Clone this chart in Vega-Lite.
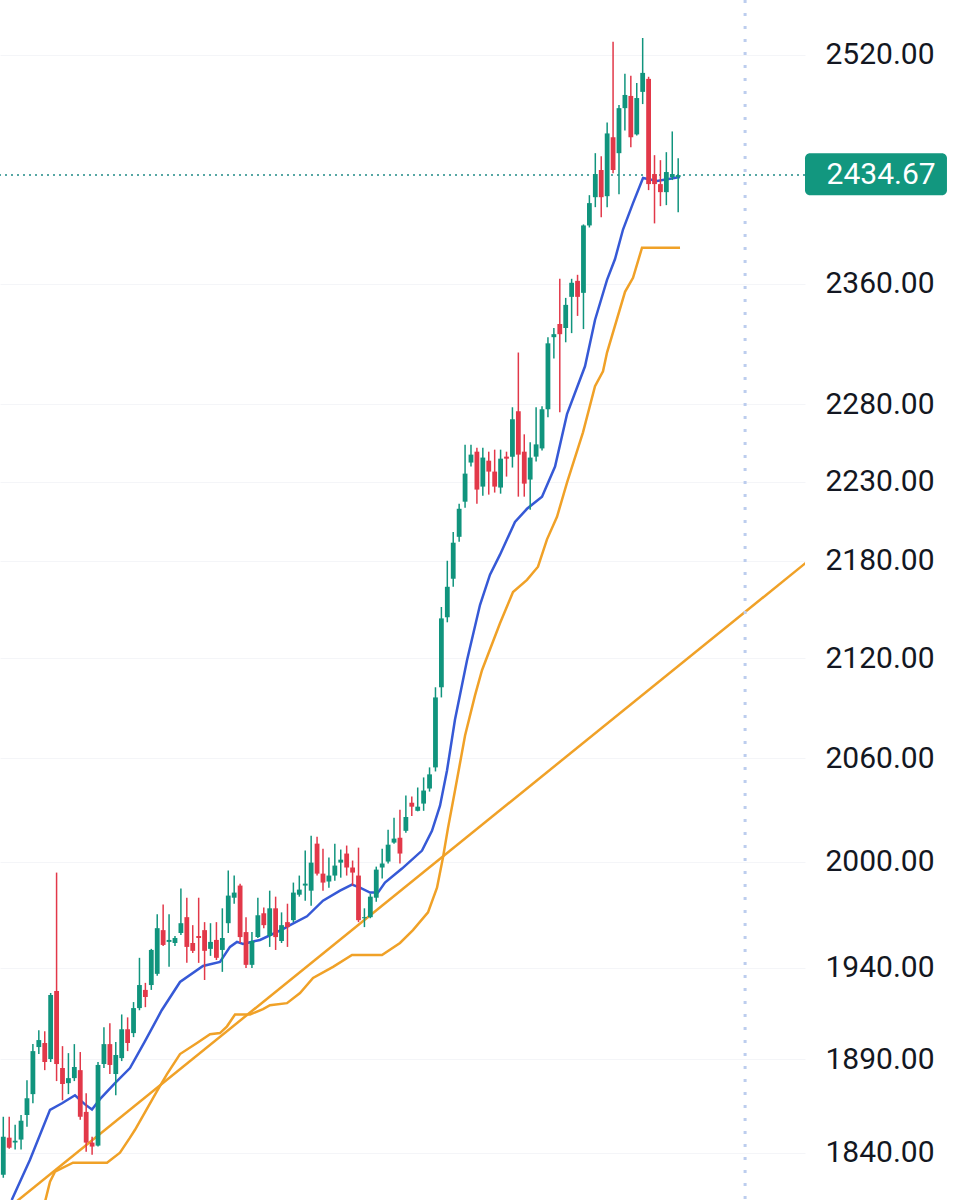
{
 "$schema": "https://vega.github.io/schema/vega-lite/v6.json",
 "width": 805,
 "height": 1200,
 "autosize": {"type": "none"},
 "padding": {"left": 0, "top": 0, "right": 154, "bottom": 0},
 "background": "#ffffff",
 "config": {"view": {"stroke": null}, "font": "Roboto",
  "axisY": {"domain": false, "ticks": false, "labelPadding": 20, "labelFontSize": 30, "labelFont": "Roboto", "labelColor": "#131722", "labelAlign": "left", "labelBaseline": "middle", "grid": true, "gridColor": "#f4f5f8", "gridWidth": 1, "labelOverlap": false, "labelBound": false, "labelFlush": false, "title": null}
 },
 "datasets": {
  "candles": [
   {"i":0,"o":1828.4,"h":1859.0,"l":1826.8,"c":1848.4},
   {"i":1,"o":1847.9,"h":1859.0,"l":1842.0,"c":1842.6},
   {"i":2,"o":1845.3,"h":1854.8,"l":1841.6,"c":1846.3},
   {"i":3,"o":1846.9,"h":1860.0,"l":1841.6,"c":1856.9},
   {"i":4,"o":1860.0,"h":1878.6,"l":1853.7,"c":1868.9},
   {"i":5,"o":1871.1,"h":1898.1,"l":1866.2,"c":1894.3},
   {"i":6,"o":1896.5,"h":1905.7,"l":1892.7,"c":1900.3},
   {"i":7,"o":1898.7,"h":1905.1,"l":1884.0,"c":1888.4},
   {"i":8,"o":1890.0,"h":1926.1,"l":1888.4,"c":1925.0},
   {"i":9,"o":1927.2,"h":1993.7,"l":1878.1,"c":1887.3},
   {"i":10,"o":1885.1,"h":1897.0,"l":1867.8,"c":1876.5},
   {"i":11,"o":1877.0,"h":1893.2,"l":1871.1,"c":1879.7},
   {"i":12,"o":1879.7,"h":1898.1,"l":1878.1,"c":1885.7},
   {"i":13,"o":1884.0,"h":1893.8,"l":1857.4,"c":1859.0},
   {"i":14,"o":1861.6,"h":1871.6,"l":1840.5,"c":1845.3},
   {"i":15,"o":1845.3,"h":1848.4,"l":1838.9,"c":1843.2},
   {"i":16,"o":1843.7,"h":1888.4,"l":1843.2,"c":1886.8},
   {"i":17,"o":1887.3,"h":1907.3,"l":1885.1,"c":1898.1},
   {"i":18,"o":1898.1,"h":1909.5,"l":1881.9,"c":1886.8},
   {"i":19,"o":1881.9,"h":1899.2,"l":1870.5,"c":1892.2},
   {"i":20,"o":1890.5,"h":1914.3,"l":1888.9,"c":1906.2},
   {"i":21,"o":1906.2,"h":1912.7,"l":1894.3,"c":1898.7},
   {"i":22,"o":1904.1,"h":1921.1,"l":1901.9,"c":1917.8},
   {"i":23,"o":1917.8,"h":1945.6,"l":1916.6,"c":1930.5},
   {"i":24,"o":1927.8,"h":1931.7,"l":1918.3,"c":1923.9},
   {"i":25,"o":1930.5,"h":1950.6,"l":1927.8,"c":1950.0},
   {"i":26,"o":1936.7,"h":1970.0,"l":1935.6,"c":1962.2},
   {"i":27,"o":1961.1,"h":1975.6,"l":1952.2,"c":1952.8},
   {"i":28,"o":1954.5,"h":1970.0,"l":1940.6,"c":1955.6},
   {"i":29,"o":1953.9,"h":1957.8,"l":1952.2,"c":1956.7},
   {"i":30,"o":1959.5,"h":1984.6,"l":1958.4,"c":1965.0},
   {"i":31,"o":1968.4,"h":1979.4,"l":1942.8,"c":1951.7},
   {"i":32,"o":1953.9,"h":1963.9,"l":1948.3,"c":1949.5},
   {"i":33,"o":1957.8,"h":1979.4,"l":1942.8,"c":1956.7},
   {"i":34,"o":1961.1,"h":1965.6,"l":1933.3,"c":1949.5},
   {"i":35,"o":1950.6,"h":1965.0,"l":1946.7,"c":1954.5},
   {"i":36,"o":1955.6,"h":1965.6,"l":1944.4,"c":1945.6},
   {"i":37,"o":1950.0,"h":1973.4,"l":1937.8,"c":1956.7},
   {"i":38,"o":1965.0,"h":1994.9,"l":1959.5,"c":1980.6},
   {"i":39,"o":1979.4,"h":1992.0,"l":1976.0,"c":1982.3},
   {"i":40,"o":1986.3,"h":1987.4,"l":1953.9,"c":1957.2},
   {"i":41,"o":1960.0,"h":1968.4,"l":1940.0,"c":1941.7},
   {"i":42,"o":1941.7,"h":1960.0,"l":1940.0,"c":1955.0},
   {"i":43,"o":1957.2,"h":1979.4,"l":1956.7,"c":1969.5},
   {"i":44,"o":1970.6,"h":1973.9,"l":1962.2,"c":1963.9},
   {"i":45,"o":1957.8,"h":1983.4,"l":1951.7,"c":1973.4},
   {"i":46,"o":1973.4,"h":1980.0,"l":1950.0,"c":1957.2},
   {"i":47,"o":1955.0,"h":1971.1,"l":1953.9,"c":1963.9},
   {"i":48,"o":1965.6,"h":1976.0,"l":1951.7,"c":1962.8},
   {"i":49,"o":1966.7,"h":1988.0,"l":1965.6,"c":1982.3},
   {"i":50,"o":1981.1,"h":1992.0,"l":1980.0,"c":1984.0},
   {"i":51,"o":1986.3,"h":2006.3,"l":1977.7,"c":1987.4},
   {"i":52,"o":1983.4,"h":2014.9,"l":1974.8,"c":1999.4},
   {"i":53,"o":2010.3,"h":2014.3,"l":1992.0,"c":1993.1},
   {"i":54,"o":1993.1,"h":2007.4,"l":1983.4,"c":1988.0},
   {"i":55,"o":1988.6,"h":2002.3,"l":1985.1,"c":1992.0},
   {"i":56,"o":1992.0,"h":2010.3,"l":1989.1,"c":1997.7},
   {"i":57,"o":1999.4,"h":2006.9,"l":1990.8,"c":2001.1},
   {"i":58,"o":2004.6,"h":2009.2,"l":1992.0,"c":1996.6},
   {"i":59,"o":1996.6,"h":2000.6,"l":1986.3,"c":1993.7},
   {"i":60,"o":1992.0,"h":2008.0,"l":1965.6,"c":1966.7},
   {"i":61,"o":1967.8,"h":1973.4,"l":1962.8,"c":1968.4},
   {"i":62,"o":1968.4,"h":1981.7,"l":1967.8,"c":1980.0},
   {"i":63,"o":1979.4,"h":1997.1,"l":1977.1,"c":1995.4},
   {"i":64,"o":1996.6,"h":2007.4,"l":1990.3,"c":1998.9},
   {"i":65,"o":2000.0,"h":2018.3,"l":1998.9,"c":2009.7},
   {"i":66,"o":2010.9,"h":2025.2,"l":2010.3,"c":2013.2},
   {"i":67,"o":2013.7,"h":2029.9,"l":1998.9,"c":2004.6},
   {"i":68,"o":2017.7,"h":2038.2,"l":2016.6,"c":2025.7},
   {"i":69,"o":2034.0,"h":2037.6,"l":2026.3,"c":2031.7},
   {"i":70,"o":2029.3,"h":2042.9,"l":2029.0,"c":2031.7},
   {"i":71,"o":2033.5,"h":2048.8,"l":2029.3,"c":2041.1},
   {"i":72,"o":2042.3,"h":2054.7,"l":2040.5,"c":2050.6},
   {"i":73,"o":2054.7,"h":2102.4,"l":2052.3,"c":2096.3},
   {"i":74,"o":2102.4,"h":2151.3,"l":2096.3,"c":2144.3},
   {"i":75,"o":2145.0,"h":2180.0,"l":2141.9,"c":2163.8},
   {"i":76,"o":2168.8,"h":2198.1,"l":2163.8,"c":2191.3},
   {"i":77,"o":2195.0,"h":2215.9,"l":2191.9,"c":2212.7},
   {"i":78,"o":2217.2,"h":2253.7,"l":2213.4,"c":2235.1},
   {"i":79,"o":2242.2,"h":2253.7,"l":2239.6,"c":2247.3},
   {"i":80,"o":2249.2,"h":2251.8,"l":2215.9,"c":2224.9},
   {"i":81,"o":2226.8,"h":2251.8,"l":2221.0,"c":2245.4},
   {"i":82,"o":2243.4,"h":2249.2,"l":2221.7,"c":2236.4},
   {"i":83,"o":2236.4,"h":2250.5,"l":2223.0,"c":2226.8},
   {"i":84,"o":2226.2,"h":2250.5,"l":2222.3,"c":2244.7},
   {"i":85,"o":2246.0,"h":2249.2,"l":2233.2,"c":2244.7},
   {"i":86,"o":2246.0,"h":2278.0,"l":2239.0,"c":2270.2},
   {"i":87,"o":2275.4,"h":2314.0,"l":2220.4,"c":2247.3},
   {"i":88,"o":2249.2,"h":2260.4,"l":2220.4,"c":2228.7},
   {"i":89,"o":2231.3,"h":2255.2,"l":2212.1,"c":2245.4},
   {"i":90,"o":2246.0,"h":2278.0,"l":2242.8,"c":2253.9},
   {"i":91,"o":2251.3,"h":2278.7,"l":2250.0,"c":2276.7},
   {"i":92,"o":2276.7,"h":2324.2,"l":2271.5,"c":2320.1},
   {"i":93,"o":2324.2,"h":2330.3,"l":2310.0,"c":2326.2},
   {"i":94,"o":2333.0,"h":2363.4,"l":2274.8,"c":2326.2},
   {"i":95,"o":2330.3,"h":2350.5,"l":2320.8,"c":2345.8},
   {"i":96,"o":2351.2,"h":2363.4,"l":2326.9,"c":2360.7},
   {"i":97,"o":2362.0,"h":2366.1,"l":2338.4,"c":2351.2},
   {"i":98,"o":2353.9,"h":2400.5,"l":2329.6,"c":2399.8},
   {"i":99,"o":2399.8,"h":2420.7,"l":2398.4,"c":2415.2},
   {"i":100,"o":2419.3,"h":2450.0,"l":2412.4,"c":2435.4},
   {"i":101,"o":2438.2,"h":2447.9,"l":2405.4,"c":2419.3},
   {"i":102,"o":2420.0,"h":2471.6,"l":2412.4,"c":2463.9},
   {"i":103,"o":2461.2,"h":2529.4,"l":2436.0,"c":2438.2},
   {"i":104,"o":2450.0,"h":2484.0,"l":2421.4,"c":2481.8},
   {"i":105,"o":2481.8,"h":2506.3,"l":2466.0,"c":2491.2},
   {"i":106,"o":2490.5,"h":2504.9,"l":2454.2,"c":2461.2},
   {"i":107,"o":2463.2,"h":2499.8,"l":2462.5,"c":2489.0},
   {"i":108,"o":2493.4,"h":2532.2,"l":2484.7,"c":2507.0},
   {"i":109,"o":2502.7,"h":2504.2,"l":2424.2,"c":2428.4},
   {"i":110,"o":2435.4,"h":2448.6,"l":2401.2,"c":2428.4},
   {"i":111,"o":2428.4,"h":2445.1,"l":2413.1,"c":2422.8},
   {"i":112,"o":2422.8,"h":2450.7,"l":2413.8,"c":2436.8},
   {"i":113,"o":2433.3,"h":2465.3,"l":2431.2,"c":2435.4},
   {"i":114,"o":2433.3,"h":2446.5,"l":2408.9,"c":2434.67}
  ],
  "fast": [
   {"i":1.42,"v":1815.2},{"i":4.51,"v":1836.3},{"i":7.89,"v":1862.7},{"i":9.92,"v":1866.2},
   {"i":12.11,"v":1870.5},{"i":13.8,"v":1865.6},{"i":14.98,"v":1862.9},{"i":16.33,"v":1868.4},
   {"i":18.87,"v":1877.0},{"i":21.4,"v":1885.1},{"i":23.94,"v":1899.7},{"i":26.76,"v":1916.6},
   {"i":29.85,"v":1932.2},{"i":33.73,"v":1941.1},{"i":36.6,"v":1943.3},{"i":38.29,"v":1951.7},
   {"i":39.47,"v":1954.5},{"i":40.49,"v":1953.4},{"i":43.36,"v":1955.6},{"i":47.25,"v":1961.7},
   {"i":48.43,"v":1963.9},{"i":51.3,"v":1968.9},{"i":54.0,"v":1977.7},{"i":56.88,"v":1983.4},
   {"i":58.9,"v":1986.8},{"i":60.25,"v":1985.1},{"i":61.94,"v":1982.3},{"i":63.29,"v":1982.3},
   {"i":64.47,"v":1988.0},{"i":67.35,"v":1996.0},{"i":70.73,"v":2006.3},{"i":72.41,"v":2017.7},
   {"i":73.77,"v":2032.3},{"i":74.95,"v":2052.9},{"i":76.3,"v":2083.1},{"i":78.33,"v":2118.8},
   {"i":80.52,"v":2152.5},{"i":82.21,"v":2171.3},{"i":83.9,"v":2183.8},{"i":86.43,"v":2204.4},
   {"i":88.46,"v":2212.7},{"i":91.0,"v":2220.4},{"i":93.2,"v":2239.6},{"i":95.22,"v":2273.5},
   {"i":98.26,"v":2304.9},{"i":99.95,"v":2335.7},{"i":101.98,"v":2362.7},{"i":103.33,"v":2376.8},
   {"i":104.68,"v":2397.0},{"i":106.37,"v":2415.2},{"i":108.06,"v":2432.6},{"i":110.44,"v":2430.5},
   {"i":114.31,"v":2433.3}
  ],
  "slow": [
   {"i":6.71,"v":1810.1},{"i":7.89,"v":1824.7},{"i":8.73,"v":1830.0},{"i":11.77,"v":1834.7},
   {"i":17.52,"v":1834.7},{"i":19.71,"v":1840.0},{"i":21.4,"v":1847.9},{"i":22.25,"v":1852.1},
   {"i":25.96,"v":1872.7},{"i":27.65,"v":1881.9},{"i":29.85,"v":1892.7},{"i":32.72,"v":1898.7},
   {"i":34.92,"v":1903.5},{"i":36.6,"v":1904.1},{"i":37.79,"v":1907.8},{"i":39.14,"v":1914.3},
   {"i":41.67,"v":1914.3},{"i":43.87,"v":1917.2},{"i":45.05,"v":1919.4},{"i":47.92,"v":1920.5},
   {"i":50.12,"v":1926.1},{"i":52.32,"v":1934.4},{"i":55.7,"v":1940.6},{"i":58.9,"v":1947.2},
   {"i":63.97,"v":1947.2},{"i":67.01,"v":1953.9},{"i":69.2,"v":1961.1},{"i":71.74,"v":1971.1},
   {"i":73.26,"v":1985.1},{"i":74.27,"v":2002.3},{"i":75.12,"v":2019.4},{"i":76.3,"v":2041.1},
   {"i":78.0,"v":2073.6},{"i":79.68,"v":2097.5},{"i":80.86,"v":2112.7},{"i":83.9,"v":2141.3},
   {"i":86.1,"v":2160.6},{"i":88.46,"v":2168.1},{"i":90.32,"v":2176.3},{"i":91.84,"v":2193.4},
   {"i":93.53,"v":2207.6},{"i":95.22,"v":2229.4},{"i":97.92,"v":2261.7},{"i":99.95,"v":2291.8},
   {"i":101.3,"v":2301.6},{"i":101.98,"v":2314.0},{"i":105.02,"v":2354.6},{"i":106.37,"v":2364.1},
   {"i":107.89,"v":2384.5},{"i":114.31,"v":2384.5}
  ],
  "trend": [
   {"i":-2.25,"v":1803.3},{"i":137.96,"v":2185.9}
  ],
  "last": [
   {"i":114,"v":2434.67,"label":"2434.67"}
  ]
 },
 "layer": [
  {
   "data": {"name": "trend"},
   "mark": {"type": "line", "color": "#f0a127", "strokeWidth": 2.5, "clip": true},
   "encoding": {
    "x": {"field": "i", "type": "quantitative", "scale": {"domain": [-0.557, 135.42], "nice": false, "zero": false, "padding": 0}, "axis": null},
    "y": {"field": "v", "type": "quantitative", "title": null,
          "scale": {"type": "log", "domain": [1815.2, 2559.9], "nice": false, "zero": false},
          "axis": {"orient": "right", "values": [1840, 1890, 1940, 2000, 2060, 2120, 2180, 2230, 2280, 2360, 2520], "format": ".2f"}}
   }
  },
  {
   "data": {"values": [{"v": 0}]},
   "mark": {"type": "rule", "color": "#bccdee", "strokeWidth": 3, "strokeDash": [3, 10]},
   "encoding": {"x": {"datum": 125.3, "type": "quantitative", "axis": null}}
  },
  {
   "data": {"name": "last"},
   "mark": {"type": "rule", "color": "#1f8a86", "strokeWidth": 1.5, "strokeDash": [2, 4]},
   "encoding": {"y": {"field": "v", "type": "quantitative", "title": null,
          "axis": {"orient": "right", "values": [1840, 1890, 1940, 2000, 2060, 2120, 2180, 2230, 2280, 2360, 2520], "format": ".2f"}}}
  },
  {
   "data": {"name": "slow"},
   "mark": {"type": "line", "color": "#f0a127", "strokeWidth": 2.5, "clip": true},
   "encoding": {
    "x": {"field": "i", "type": "quantitative", "axis": null},
    "y": {"field": "v", "type": "quantitative", "title": null,
          "axis": {"orient": "right", "values": [1840, 1890, 1940, 2000, 2060, 2120, 2180, 2230, 2280, 2360, 2520], "format": ".2f"}}
   }
  },
  {
   "data": {"name": "fast"},
   "mark": {"type": "line", "color": "#3659d6", "strokeWidth": 2.5, "clip": true},
   "encoding": {
    "x": {"field": "i", "type": "quantitative", "axis": null},
    "y": {"field": "v", "type": "quantitative", "title": null,
          "axis": {"orient": "right", "values": [1840, 1890, 1940, 2000, 2060, 2120, 2180, 2230, 2280, 2360, 2520], "format": ".2f"}}
   }
  },
  {
   "data": {"name": "candles"},
   "mark": {"type": "rule", "strokeWidth": 1.5},
   "encoding": {
    "x": {"field": "i", "type": "quantitative", "axis": null},
    "y": {"field": "l", "type": "quantitative", "title": null,
          "axis": {"orient": "right", "values": [1840, 1890, 1940, 2000, 2060, 2120, 2180, 2230, 2280, 2360, 2520], "format": ".2f"}},
    "y2": {"field": "h"},
    "color": {"condition": {"test": "datum.c >= datum.o", "value": "#10947d"}, "value": "#e23849"}
   }
  },
  {
   "data": {"name": "candles"},
   "mark": {"type": "bar", "size": 4.8},
   "encoding": {
    "x": {"field": "i", "type": "quantitative", "axis": null},
    "y": {"field": "o", "type": "quantitative", "title": null,
          "axis": {"orient": "right", "values": [1840, 1890, 1940, 2000, 2060, 2120, 2180, 2230, 2280, 2360, 2520], "format": ".2f"}},
    "y2": {"field": "c"},
    "color": {"condition": {"test": "datum.c >= datum.o", "value": "#10947d"}, "value": "#e23849"}
   }
  },
  {
   "data": {"name": "last"},
   "mark": {"type": "rect", "color": "#12977f", "cornerRadius": 5},
   "encoding": {
    "x": {"datum": 135.42, "type": "quantitative", "axis": null},
    "x2": {"datum": 159.4},
    "y": {"datum": 2450.0, "type": "quantitative", "title": null,
          "axis": {"orient": "right", "values": [1840, 1890, 1940, 2000, 2060, 2120, 2180, 2230, 2280, 2360, 2520], "format": ".2f"}},
    "y2": {"datum": 2420.7}
   }
  },
  {
   "data": {"name": "last"},
   "mark": {"type": "text", "color": "#ffffff", "font": "Roboto", "fontSize": 30, "align": "left", "baseline": "middle"},
   "encoding": {
    "x": {"datum": 139.07, "type": "quantitative", "axis": null},
    "y": {"field": "v", "type": "quantitative", "title": null,
          "axis": {"orient": "right", "values": [1840, 1890, 1940, 2000, 2060, 2120, 2180, 2230, 2280, 2360, 2520], "format": ".2f"}},
    "text": {"field": "label"}
   }
  }
 ]
}
